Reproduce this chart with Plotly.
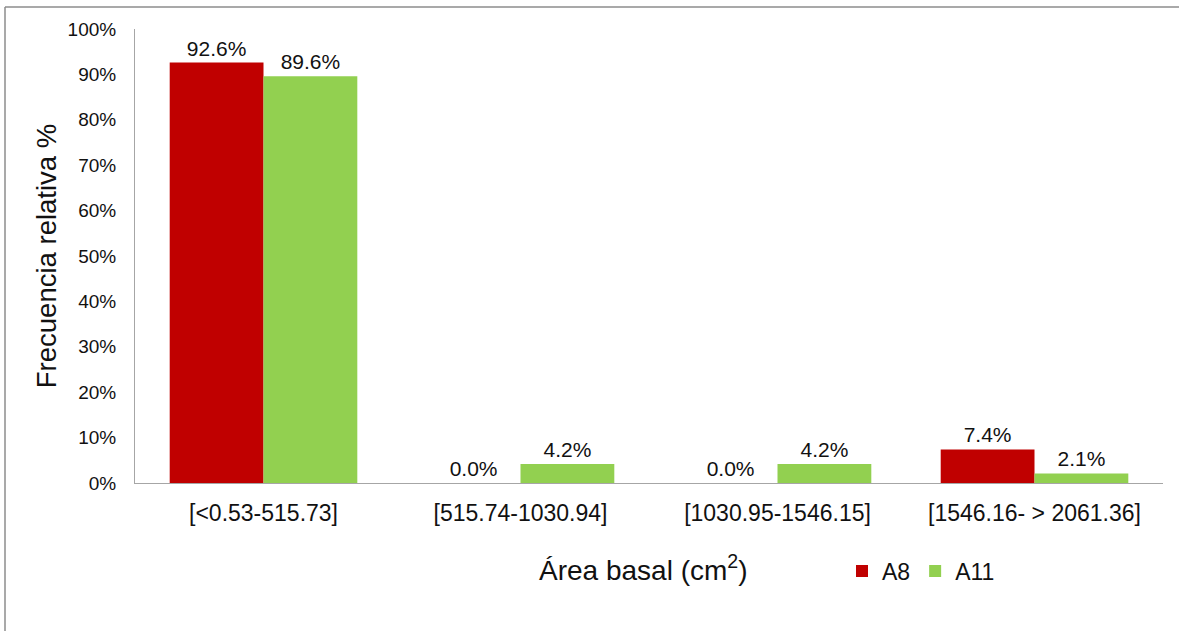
import plotly.graph_objects as go

categories = ["[<0.53-515.73]", "[515.74-1030.94]", "[1030.95-1546.15]", "[1546.16- > 2061.36]"]
a8 = [92.6, 0.0, 0.0, 7.4]
a11 = [89.6, 4.2, 4.2, 2.1]
y_ticks = [0, 10, 20, 30, 40, 50, 60, 70, 80, 90, 100]

W, H = 1179, 631
L, R, T, B = 135, 16, 29, 148
pw, ph = W - L - R, H - T - B

def px_x(px):
    return (px - L) / pw

def px_y(py):
    return (H - B - py) / ph

FONT = "Liberation Sans, Arial, sans-serif"
TXT = "#111111"

fig = go.Figure()
fig.add_trace(go.Bar(name="A8", x=categories, y=a8, marker=dict(color="#C00000", line=dict(width=0)),
                     text=[f"{v:.1f}%" for v in a8], textposition="outside",
                     textfont=dict(size=21, color=TXT, family=FONT), cliponaxis=False))
fig.add_trace(go.Bar(name="A11", x=categories, y=a11, marker=dict(color="#92D050", line=dict(width=0)),
                     text=[f"{v:.1f}%" for v in a11], textposition="outside",
                     textfont=dict(size=21, color=TXT, family=FONT), cliponaxis=False))

fig.update_layout(
    width=W, height=H,
    margin=dict(l=L, r=R, t=T, b=B),
    paper_bgcolor="white", plot_bgcolor="white",
    font=dict(family=FONT, color=TXT),
    barmode="group", bargap=0.27, bargroupgap=0,
    showlegend=True,
    legend=dict(orientation="h", x=px_x(842), y=px_y(571), xanchor="left", yanchor="middle",
                font=dict(size=23, family=FONT, color=TXT), itemwidth=30, tracegroupgap=0,
                bgcolor="rgba(0,0,0,0)"),
    xaxis=dict(showline=True, linecolor="#A6A6A6", linewidth=1, ticks="", showgrid=False,
               tickfont=dict(size=23, family=FONT, color=TXT), ticklabelstandoff=9),
    yaxis=dict(range=[0, 100], tickvals=y_ticks, ticktext=[f"{v}%" for v in y_ticks],
               showline=True, linecolor="#A6A6A6", linewidth=1, ticks="", showgrid=False,
               zeroline=False, tickfont=dict(size=19, family=FONT, color=TXT), ticklabelstandoff=14,
               title=dict(text="Frecuencia relativa %", font=dict(size=27.5, family=FONT, color=TXT), standoff=2)),
    shapes=[
        dict(type="line", xref="paper", yref="paper", x0=px_x(5), x1=px_x(1179), y0=px_y(7), y1=px_y(7),
             line=dict(color="#8C8C8C", width=1.5)),
        dict(type="line", xref="paper", yref="paper", x0=px_x(5), x1=px_x(5), y0=px_y(7), y1=px_y(631),
             line=dict(color="#8C8C8C", width=1.5)),
    ],
    annotations=[
        dict(text="Área basal (cm<sup>2</sup>)", xref="paper", yref="paper", x=px_x(643), y=px_y(568),
             xanchor="center", yanchor="middle", showarrow=False, font=dict(size=28, family=FONT, color=TXT)),
    ],
)

fig.write_html("out.html")
